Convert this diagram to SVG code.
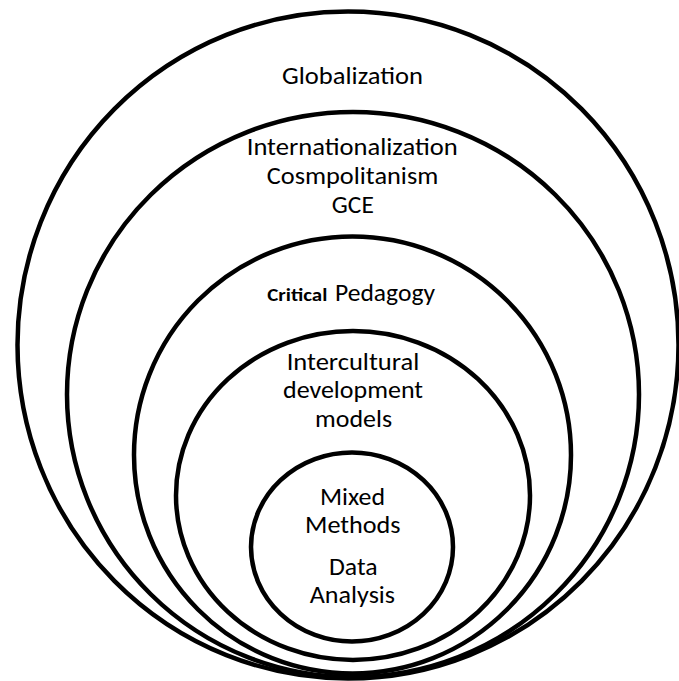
<svg xmlns="http://www.w3.org/2000/svg" width="679" height="681" viewBox="0 0 679 681">
<style>
.ring{fill:none;stroke:#000;stroke-width:4.5}
.t{font-family:Carlito,Calibri,Lato,"Open Sans",sans-serif;font-size:24px;fill:#000;text-anchor:middle}
.b{font-family:Carlito,Calibri,Lato,"Open Sans",sans-serif;font-size:18px;font-weight:bold;fill:#000;text-anchor:middle}
</style>
<rect width="679" height="681" fill="#fff"/>
<g id="globalization">
<ellipse class="ring" cx="348" cy="345" rx="330.5" ry="333.5"/>
<text class="t" x="352.5" y="84" textLength="141" lengthAdjust="spacingAndGlyphs">Globalization</text>
</g>
<g id="internationalization">
<ellipse class="ring" cx="353" cy="394.5" rx="286" ry="282.5"/>
<text class="t" x="352.2" y="155" textLength="211" lengthAdjust="spacingAndGlyphs">Internationalization</text>
<text class="t" x="352.5" y="184" textLength="171.6" lengthAdjust="spacingAndGlyphs">Cosmpolitanism</text>
<text class="t" x="352.8" y="213" textLength="42" lengthAdjust="spacingAndGlyphs">GCE</text>
</g>
<g id="critical-pedagogy">
<ellipse class="ring" cx="352.5" cy="455" rx="218.5" ry="218.5"/>
<text class="b" x="297.3" y="301" textLength="60" lengthAdjust="spacingAndGlyphs">Critical</text>
<text class="t" x="385" y="301" textLength="100" lengthAdjust="spacingAndGlyphs">Pedagogy</text>
</g>
<g id="intercultural">
<ellipse class="ring" cx="353" cy="495.5" rx="177" ry="164.5"/>
<text class="t" x="353" y="370" textLength="132.6" lengthAdjust="spacingAndGlyphs">Intercultural</text>
<text class="t" x="353" y="398" textLength="140" lengthAdjust="spacingAndGlyphs">development</text>
<text class="t" x="353.6" y="426.7" textLength="77" lengthAdjust="spacingAndGlyphs">models</text>
</g>
<g id="methods">
<ellipse class="ring" cx="352" cy="547" rx="101" ry="94.5"/>
<text class="t" x="352.5" y="505" textLength="65" lengthAdjust="spacingAndGlyphs">Mixed</text>
<text class="t" x="352.8" y="533" textLength="95.6" lengthAdjust="spacingAndGlyphs">Methods</text>
<text class="t" x="353.3" y="575" textLength="48.6" lengthAdjust="spacingAndGlyphs">Data</text>
<text class="t" x="352.4" y="603" textLength="85.3" lengthAdjust="spacingAndGlyphs">Analysis</text>
</g>
<g id="connectors"></g>
</svg>
